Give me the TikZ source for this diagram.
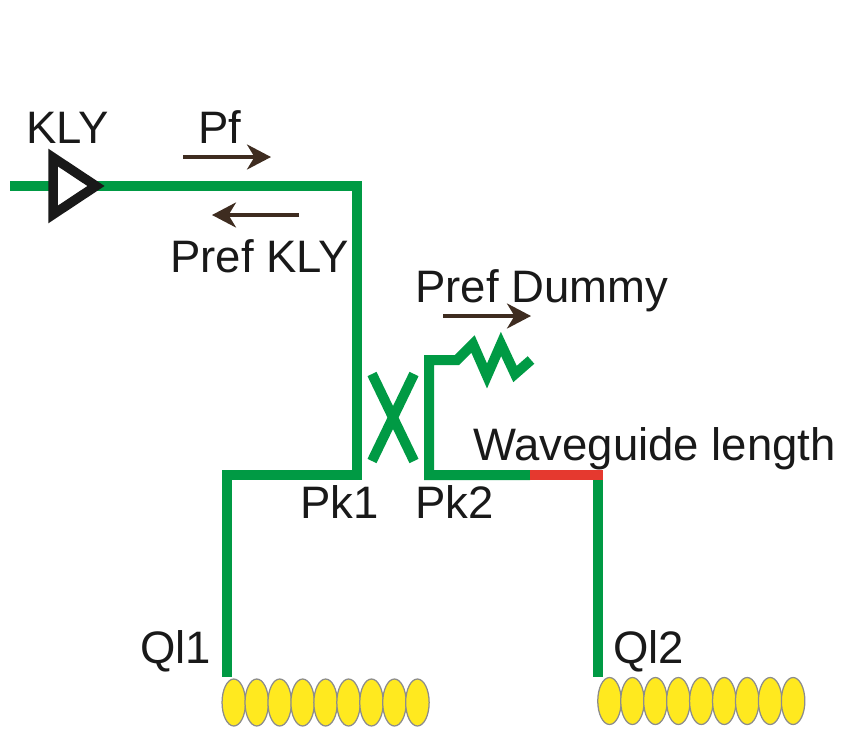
\documentclass[tikz,border=0pt]{standalone}
\usepackage{fontspec}
\setmainfont{Liberation Sans}
\usetikzlibrary{arrows.meta,shapes.geometric}
\definecolor{lineGreen}{HTML}{009A44}
\definecolor{lineRed}{HTML}{E5392F}
\definecolor{beadYellow}{HTML}{FFE91F}
\definecolor{flowBrown}{HTML}{3E2C20}
\tikzset{
  guide/.style={draw=lineGreen,line width=2mm},
  flow/.style={draw=flowBrown,line width=0.7mm,-{Stealth[length=4.8mm,width=5mm,inset=1.5mm]}},
  lbl/.style={anchor=base west,inner sep=0pt,text=black!90,font=\fontsize{25.9}{30}\selectfont},
  bead/.style={ellipse,draw=black!45,line width=0.25mm,fill=beadYellow,inner sep=0pt,minimum width=4.7mm,minimum height=9.4mm},
}

\begin{document}
\begin{tikzpicture}[x=0.02cm,y=-0.02cm]
  \useasboundingbox (0,0) rectangle (841,730);

  % corners of the waveguide run
  \coordinate (in) at (10,186);
  \coordinate (klyBack) at (53,186);
  \coordinate (klyTip) at (96,186);
  \coordinate (cornerA) at (357,186);
  \coordinate (pk1) at (357,475);
  \coordinate (cornerB) at (227,475);
  \coordinate (ql1End) at (227,677);
  \coordinate (dummyA) at (429,360);
  \coordinate (dummyB) at (457,360);
  \coordinate (pk2) at (429,475);
  \coordinate (redStart) at (530,475);
  \coordinate (redEnd) at (603,475);
  \coordinate (ql2Top) at (598,475);
  \coordinate (ql2End) at (598,677);

  % klystron side
  \draw[guide] (in) -- (klyBack);
  \draw[guide] (klyTip) -- (cornerA) -- (pk1) -- (cornerB) -- (ql1End);
  \draw[line width=1.9mm,draw=black!90,fill=white] (53,157.5) -- (klyTip) -- (53,214.5) -- cycle;

  % coupler
  \draw[guide] (372,374) -- (414,461);
  \draw[guide] (414,374) -- (372,461);

  % dummy load and second cavity
  \draw[guide] (redStart) -- (pk2) -- (dummyA) -- (dummyB)
    -- (473,344) -- (487,376) -- (501,344) -- (515,374) -- (531,360);
  \draw[guide] (ql2Top) -- (ql2End);
  \draw[guide,draw=lineRed] (redStart) -- (redEnd);

  % power flow arrows
  \draw[flow] (183,157) -- (271,157);
  \draw[flow] (299,215) -- (212,215);
  \draw[flow] (443,316) -- (531,316);

  % labels
  \node[lbl] (klyLabel) at (26,143) {KLY};
  \node[lbl] (pfLabel) at (198,143) {Pf};
  \node[lbl] (prefKly) at (170,272) {Pref KLY};
  \node[lbl] (prefDummy) at (415,302) {Pref Dummy};
  \node[lbl] (wgLabel) at (473,460) {Waveguide length};
  \node[lbl] (pk1Label) at (300,518) {Pk1};
  \node[lbl] (pk2Label) at (415,518) {Pk2};
  \node[lbl] (ql1Label) at (140,663) {Ql1};
  \node[lbl] (ql2Label) at (613,663) {Ql2};

  % cavity cells
  \foreach \i in {0,...,8} {
    \node[bead] (cellA\i) at (233.8+\i*22.95,702.5) {};
    \node[bead] (cellB\i) at (609.5+\i*22.95,701) {};
  }
\end{tikzpicture}
\end{document}
